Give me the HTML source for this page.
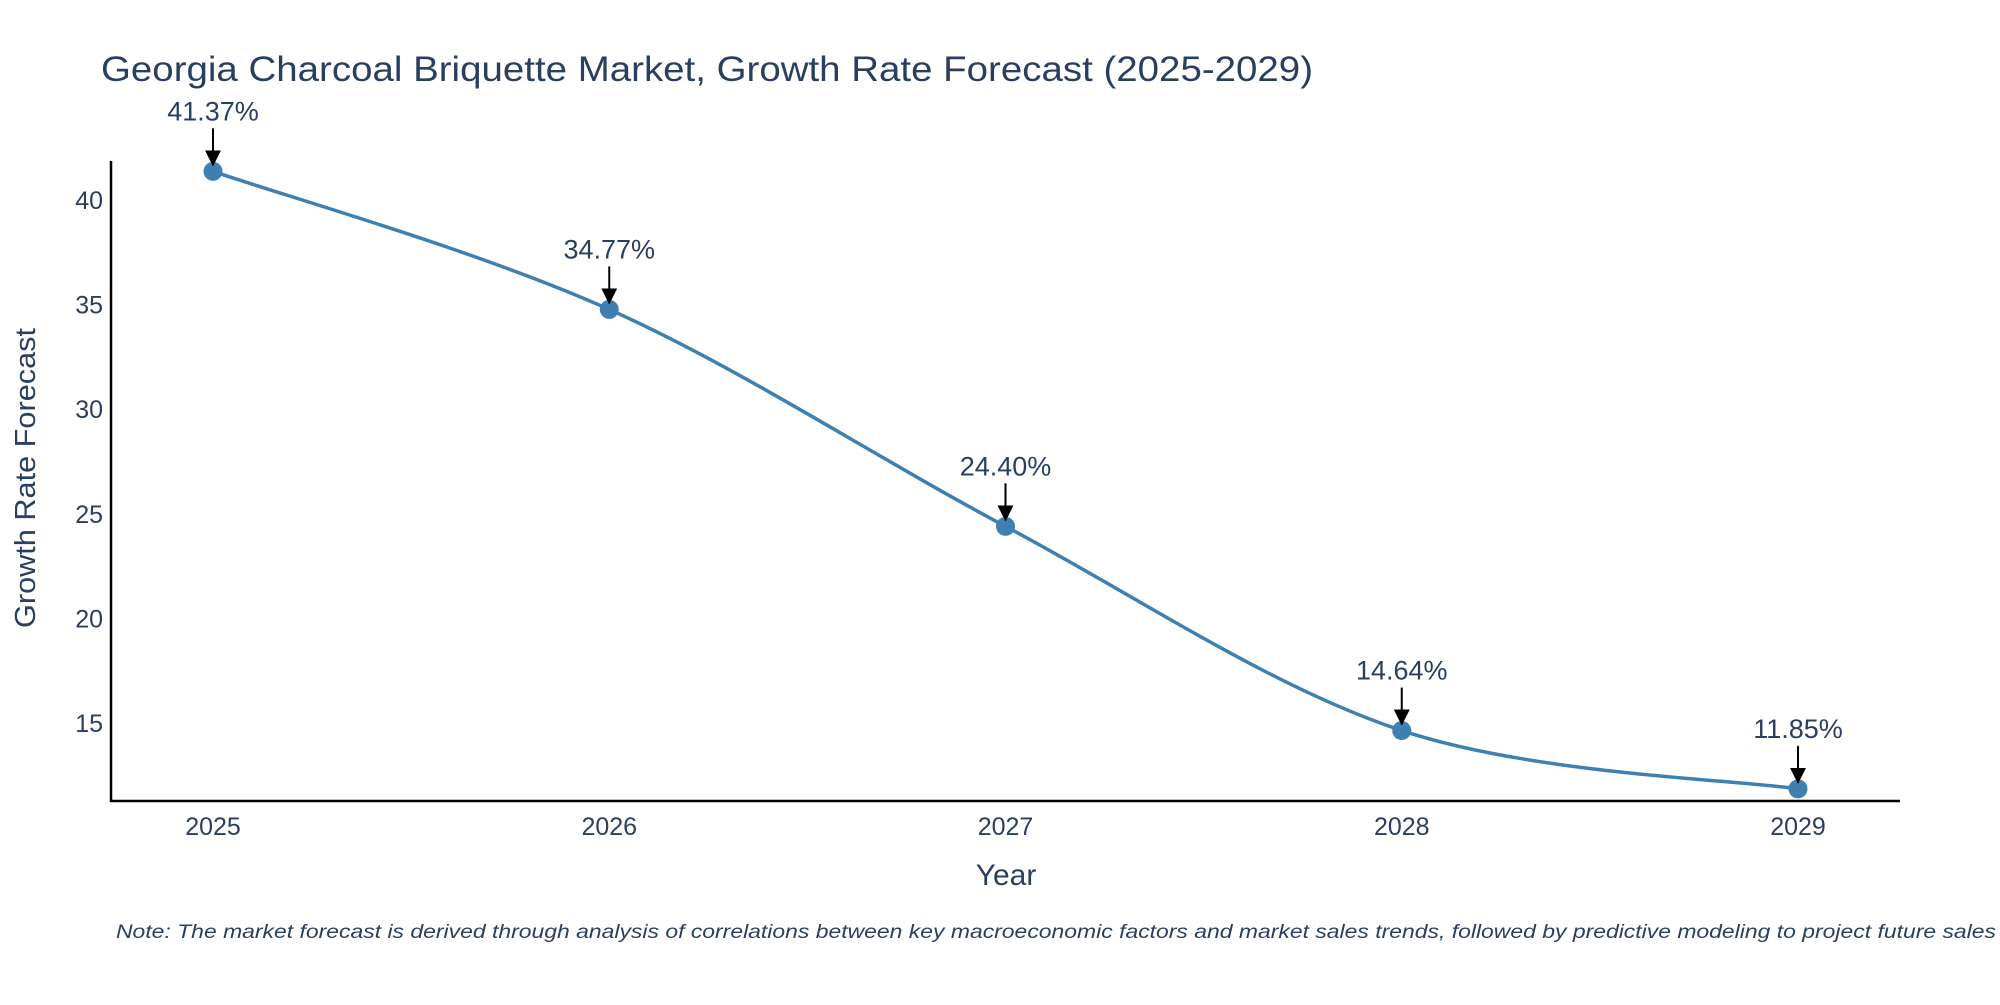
<!DOCTYPE html>
<html><head><meta charset="utf-8"><style>
html,body{margin:0;padding:0;background:#fff;}
svg text{font-family:"Liberation Sans","DejaVu Sans",sans-serif;fill:#2a3f5f;}
</style></head><body>
<svg id="chart" width="2000" height="1000" viewBox="0 0 2000 1000" xmlns="http://www.w3.org/2000/svg">
<text x="101" y="81" font-size="35" textLength="1212" lengthAdjust="spacingAndGlyphs">Georgia Charcoal Briquette Market, Growth Rate Forecast (2025-2029)</text>
<g id="plot"></g>
<text x="1006" y="885" font-size="30" text-anchor="middle">Year</text>
<text transform="translate(35,478) rotate(-90)" font-size="29" text-anchor="middle" textLength="300" lengthAdjust="spacingAndGlyphs">Growth Rate Forecast</text>
<text x="116" y="938" font-size="19" font-style="italic" textLength="1880" lengthAdjust="spacingAndGlyphs">Note: The market forecast is derived through analysis of correlations between key macroeconomic factors and market sales trends, followed by predictive modeling to project future sales</text>
</svg>
<script>
const years = [2025, 2026, 2027, 2028, 2029];
const values = [41.37, 34.77, 24.40, 14.64, 11.85];
const labels = ["41.37%", "34.77%", "24.40%", "14.64%", "11.85%"];
const yTicks = [15, 20, 25, 30, 35, 40];

const NS = "http://www.w3.org/2000/svg";
const g = document.getElementById("plot");
const xs = v => 213 + (v - 2025) * 396.25;
const ys = v => 200 + (40 - v) * 20.92;
function mk(tag, attrs, parent) {
  const e = document.createElementNS(NS, tag);
  for (const k in attrs) e.setAttribute(k, attrs[k]);
  (parent || g).appendChild(e);
  return e;
}
let e = mk("line", {x1: 111, y1: 161, x2: 111, y2: 802, stroke: "#000", "stroke-width": 2.5});


e = mk("line", {x1: 110, y1: 801, x2: 1900, y2: 801, stroke: "#000", "stroke-width": 2.5});


yTicks.forEach(t => {
  const tx = mk("text", {x: 103, y: ys(t) + 9, "font-size": 25, "text-anchor": "end"});
  tx.textContent = t;
  
  
});
years.forEach(yr => {
  const tx = mk("text", {x: xs(yr), y: 835, "font-size": 25, "text-anchor": "middle"});
  tx.textContent = yr;
  
  
});
const pts = years.map((yr, i) => [xs(yr), ys(values[i])]);
let d = "M" + pts[0][0] + "," + pts[0][1];
const s = 0.5 / 3 * 2;
for (let i = 0; i < pts.length - 1; i++) {
  const p0 = pts[Math.max(0, i - 1)], p1 = pts[i], p2 = pts[i + 1], p3 = pts[Math.min(pts.length - 1, i + 2)];
  const c1 = [p1[0] + (p2[0] - p0[0]) * s / 2, p1[1] + (p2[1] - p0[1]) * s / 2];
  const c2 = [p2[0] - (p3[0] - p1[0]) * s / 2, p2[1] - (p3[1] - p1[1]) * s / 2];
  d += " C" + c1[0] + "," + c1[1] + " " + c2[0] + "," + c2[1] + " " + p2[0] + "," + p2[1];
}
e = mk("path", {d: d, fill: "none", stroke: "#3f80b1", "stroke-width": 3.5});


const defs = mk("defs", {});
const mark = mk("marker", {id: "ah", markerWidth: 16, markerHeight: 16, refX: 15, refY: 8, orient: "auto", markerUnits: "userSpaceOnUse"}, defs);
mk("path", {d: "M0,0 L16,8 L0,16 z", fill: "#000"}, mark);
pts.forEach((p, i) => {
  const c = mk("circle", {cx: p[0], cy: p[1], r: 9.5, fill: "#3f80b1"});
  
  
  const a = mk("line", {x1: p[0], y1: p[1] - 43, x2: p[0], y2: p[1] - 6, stroke: "#000", "stroke-width": 2, "marker-end": "url(#ah)"});
  
  
  const t = mk("text", {x: p[0], y: p[1] - 51, "font-size": 27, "text-anchor": "middle"});
  t.textContent = labels[i];
  
  
});
</script>
</body></html>
